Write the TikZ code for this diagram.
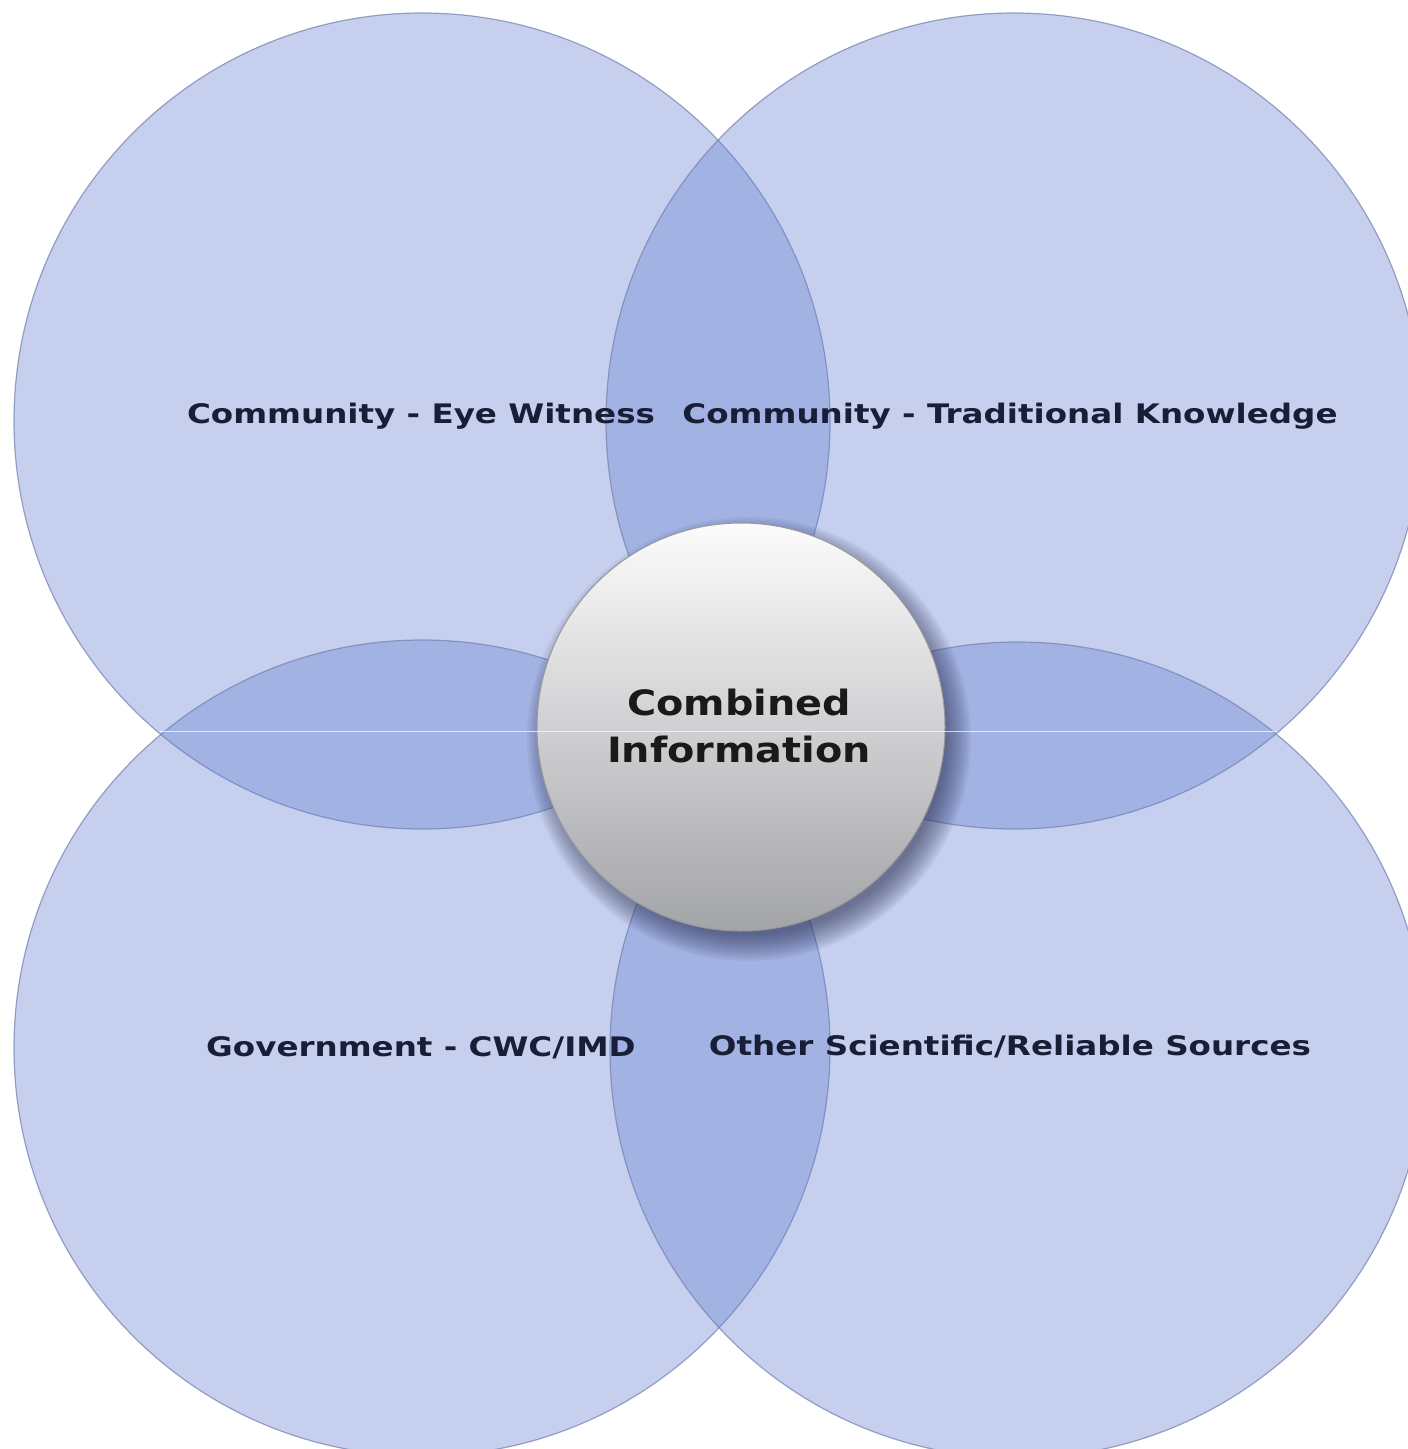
\documentclass[tikz,border=0pt]{standalone}
\usepackage{fontspec}
\setmainfont{DejaVu Sans}
\newfontfamily\lblfont[FakeStretch=1.21]{DejaVu Sans}
\newfontfamily\ctrfont[FakeStretch=1.14]{DejaVu Sans}
\definecolor{circfill}{RGB}{101,128,209}
\definecolor{circline}{RGB}{115,128,175}
\definecolor{lbl}{RGB}{25,30,55}
\definecolor{ctop}{RGB}{252,252,252}
\definecolor{cmid}{RGB}{225,225,227}
\definecolor{cbot}{RGB}{163,164,168}
\definecolor{shcol}{RGB}{40,46,80}
\begin{document}
\begin{tikzpicture}[x=1bp,y=-1bp,
  bigcirc/.style={circle, draw=circline, line width=1.2bp, fill=circfill,
    fill opacity=0.37, draw opacity=0.7, minimum size=816bp, inner sep=0pt},
  lab/.style={font=\lblfont\fontsize{27}{32}\selectfont\bfseries, text=lbl, anchor=base, inner sep=0pt},
  ctrlab/.style={font=\ctrfont\fontsize{35}{40}\selectfont\bfseries, text=black!90, anchor=base, inner sep=0pt},
  shlayer/.style={fill=shcol, fill opacity=0.055},
  seam/.style={white, line width=1bp, opacity=0.7}]
\useasboundingbox (0,0) rectangle (1408,1449);
\fill[white] (0,0) rectangle (1408,1449);
\node[bigcirc] (tl) at (422,421) {};
\node[bigcirc] (tr) at (1014,421) {};
\node[bigcirc] (bl) at (422,1048) {};
\node[bigcirc] (br) at (1018,1050) {};
\coordinate (shc) at (749,739);
\foreach \r in {196,198,...,222} {
  \fill[shlayer] (shc) circle[radius=\r];
}
\node[circle, minimum size=408bp, inner sep=0pt, draw=black!40, line width=1bp,
  top color=ctop, middle color=cmid, bottom color=cbot] (ci) at (741,727) {};
\node[ctrlab] (c1) at (739,715) {Combined};
\node[ctrlab] (c2) at (739,762) {Information};
\node[lab] (ew) at (421,423) {Community - Eye Witness};
\node[lab] (tk) at (1010,423) {Community - Traditional Knowledge};
\node[lab] (gov) at (421,1056) {Government - CWC/IMD};
\node[lab] (oss) at (1010,1055) {Other Scientific/Reliable Sources};
\coordinate (li) at (160,731);
\coordinate (ri) at (1277,731);
\draw[seam] (li) -- (ri);
\end{tikzpicture}
\end{document}
